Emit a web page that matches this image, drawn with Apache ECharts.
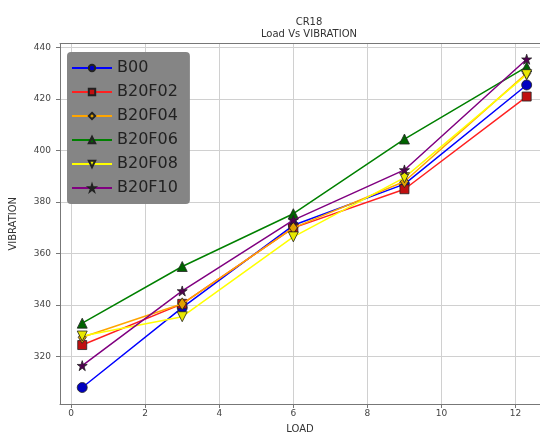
<!DOCTYPE html>
<html><head><meta charset="utf-8">
<script src="https://cdn.jsdelivr.net/npm/echarts@6/dist/echarts.min.js"></script>
<style>html,body{margin:0;padding:0;background:#fff}#c{width:540px;height:439px}</style>
</head><body><div id="c"></div>
<script>
const loads = [0.3, 3, 6, 9, 12.3];
const B00 = [308, 339, 371, 387, 425.5];
const B20F02 = [324.5, 340.5, 370, 385, 421];
const B20F04 = [327.5, 340.5, 370, 388, 430];
const B20F06 = [333, 355, 375.5, 404.5, 432.5];
const B20F08 = [328, 335.5, 366.5, 389.5, 429.5];
const B20F10 = [316.5, 345.5, 373, 392.5, 435.5];
const xTicks = [0, 2, 4, 6, 8, 10, 12];
const yTicks = [320, 340, 360, 380, 400, 420, 440];
const names = ['B00', 'B20F02', 'B20F04', 'B20F06', 'B20F08', 'B20F10'];
const values = [B00, B20F02, B20F04, B20F06, B20F08, B20F10];

const lineColors = ['#0000ff', '#ff2020', '#ffa500', '#008000', '#ffff00', '#800080'];
const fillColors = ['#0000c0', '#c01010', '#e0a000', '#006400', '#e8e800', '#500050'];
const star = 'path://M50,0 L61.8,36.2 L100,36.2 L69.1,58.8 L80.9,95.1 L50,72.4 L19.1,95.1 L30.9,58.8 L0,36.2 L38.2,36.2 Z';
const symbols = ['circle', 'rect', 'path://M5,0 L8.5,10 L5,20 L1.5,10 Z', 'triangle', 'path://M0,0 L10,0 L5,10 Z', star];
const sizes = [10, 9, [8, 12], 10, 10, 10];

const ff = 'DejaVu Sans';
const chart = echarts.init(document.getElementById('c'), null, {renderer: 'canvas'});
chart.setOption({
  animation: false,
  backgroundColor: '#fff',
  title: {
    text: 'CR18\nLoad Vs VIBRATION',
    left: 304, top: 11, textAlign: 'center',
    textStyle: {fontFamily: ff, fontSize: 10, fontWeight: 'normal', color: '#333', lineHeight: 12}
  },
  legend: {
    orient: 'vertical', left: 67, top: 52,
    backgroundColor: '#858585', borderRadius: 4,
    padding: [8, 12, 8, 4],
    itemWidth: 40, itemHeight: 8, itemGap: 8, itemTextGap: 13,
    textStyle: {fontFamily: ff, fontSize: 16, color: '#222', lineHeight: 16},
    data: names
  },
  grid: {left: 59, right: 0, top: 43.5, bottom: 29},
  xAxis: [{
    type: 'value', min: -0.3, max: 12.66,
    name: 'LOAD', nameLocation: 'middle', nameGap: 20,
    nameTextStyle: {fontFamily: ff, fontSize: 10, color: '#333'},
    axisLine: {show: true, onZero: false, lineStyle: {color: '#777'}},
    axisTick: {show: true, length: 4, customValues: xTicks, lineStyle: {color: '#777'}},
    axisLabel: {customValues: xTicks, fontFamily: ff, fontSize: 9, color: '#444', margin: 5},
    splitLine: {show: true, lineStyle: {color: '#d0d0d0', width: 1}}
  }, {
    type: 'value', position: 'top', min: -0.3, max: 12.66,
    axisLine: {show: true, onZero: false, lineStyle: {color: '#777'}},
    axisTick: {show: false}, axisLabel: {show: false}, splitLine: {show: false}
  }],
  yAxis: {
    type: 'value', min: 301.6, max: 441.6,
    name: 'VIBRATION', nameLocation: 'middle', nameGap: 42, nameRotate: 90,
    nameTextStyle: {fontFamily: ff, fontSize: 10, color: '#333'},
    axisLine: {show: true, onZero: false, lineStyle: {color: '#777'}},
    axisTick: {show: true, length: 4, customValues: yTicks, lineStyle: {color: '#777'}},
    axisLabel: {customValues: yTicks, fontFamily: ff, fontSize: 9, color: '#444', margin: 9},
    splitLine: {show: true, lineStyle: {color: '#d0d0d0', width: 1}}
  },
  series: names.map((n, i) => ({
    name: n, type: 'line', xAxisIndex: 0,
    data: loads.map((x, j) => [x, values[i][j]]),
    symbol: symbols[i], symbolSize: sizes[i], showAllSymbol: true,
    lineStyle: {color: lineColors[i], width: 1.5},
    itemStyle: {color: fillColors[i], borderColor: '#222', borderWidth: 0.8},
    z: 2 + i
  }))
});
</script></body></html>
